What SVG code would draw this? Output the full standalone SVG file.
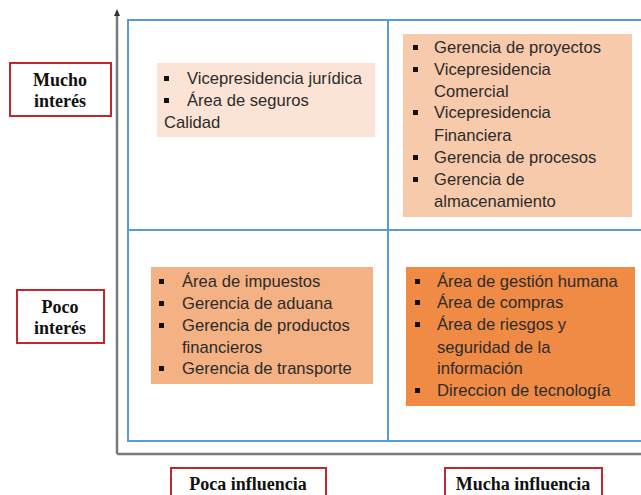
<svg xmlns="http://www.w3.org/2000/svg" width="641" height="495" viewBox="0 0 641 495">
<style>
.lbl{fill:#fff;stroke:#C0282D;stroke-width:2}
.lt{font-family:"Liberation Serif",serif;font-weight:bold;font-size:18px;fill:#111;text-anchor:middle}
.t{font-family:"Liberation Sans",Arial,sans-serif;font-size:16.6px;fill:#2b2b2b}
.grid{fill:none;stroke:#5B9BD5;stroke-width:2}
.axis{stroke:#7a7a7a;stroke-width:2.5;fill:none}
</style>
<defs>
<rect id="b" width="5" height="5" fill="#111"/>
</defs>
<g id="connectors">
<path class="axis" d="M117,454 L117,14"/>
<path d="M114,16 L117,9 L120,16 Z" fill="#333"/>
<path class="axis" d="M117,454 L641,454"/>
</g>
<g id="grid">
<rect class="grid" x="128" y="20" width="520" height="421"/>
<line class="grid" x1="388" y1="20" x2="388" y2="441"/>
<line class="grid" x1="128" y1="230" x2="641" y2="230"/>
</g>
<g id="mucho-interes">
<rect class="lbl" x="10" y="63" width="101" height="53"/>
<text class="lt" x="60" y="86">Mucho</text>
<text class="lt" x="60" y="107">interés</text>
</g>
<g id="poco-interes">
<rect class="lbl" x="17" y="290" width="87" height="53"/>
<text class="lt" x="60" y="313">Poco</text>
<text class="lt" x="60" y="334">interés</text>
</g>
<g id="poca-influencia">
<rect class="lbl" x="171" y="468" width="155" height="40"/>
<text class="lt" x="248" y="490">Poca influencia</text>
</g>
<g id="mucha-influencia">
<rect class="lbl" x="445" y="468" width="157" height="40"/>
<text class="lt" x="523" y="490">Mucha influencia</text>
</g>
<g id="q-top-left">
<rect x="157" y="63" width="218" height="74" fill="#FBE4D5"/>
<use href="#b" x="164" y="76"/><text class="t" x="187" y="84">Vicepresidencia jurídica</text>
<use href="#b" x="164" y="98"/><text class="t" x="187" y="106">Área de seguros</text>
<text class="t" x="164" y="128">Calidad</text>
</g>
<g id="q-top-right">
<rect x="403" y="34" width="229" height="183" fill="#F7CAAC"/>
<use href="#b" x="413" y="45"/><text class="t" x="434" y="53">Gerencia de proyectos</text>
<use href="#b" x="413" y="67"/><text class="t" x="434" y="75">Vicepresidencia</text>
<text class="t" x="434" y="97">Comercial</text>
<use href="#b" x="413" y="110"/><text class="t" x="434" y="118">Vicepresidencia</text>
<text class="t" x="434" y="141">Financiera</text>
<use href="#b" x="413" y="155"/><text class="t" x="434" y="163">Gerencia de procesos</text>
<use href="#b" x="413" y="177"/><text class="t" x="434" y="185">Gerencia de</text>
<text class="t" x="434" y="207">almacenamiento</text>
</g>
<g id="q-bottom-left">
<rect x="151" y="267" width="222" height="117" fill="#F4B183"/>
<use href="#b" x="159" y="279"/><text class="t" x="182" y="287">Área de impuestos</text>
<use href="#b" x="159" y="301"/><text class="t" x="182" y="309">Gerencia de aduana</text>
<use href="#b" x="159" y="323"/><text class="t" x="182" y="331">Gerencia de productos</text>
<text class="t" x="182" y="353">financieros</text>
<use href="#b" x="159" y="366"/><text class="t" x="182" y="374">Gerencia de transporte</text>
</g>
<g id="q-bottom-right">
<rect x="406" y="267" width="229" height="139" fill="#F08B45"/>
<use href="#b" x="415" y="279"/><text class="t" x="437" y="287">Área de gestión humana</text>
<use href="#b" x="415" y="300"/><text class="t" x="437" y="308">Área de compras</text>
<use href="#b" x="415" y="322"/><text class="t" x="437" y="330">Área de riesgos y</text>
<text class="t" x="437" y="353">seguridad de la</text>
<text class="t" x="437" y="374">información</text>
<use href="#b" x="415" y="388"/><text class="t" x="437" y="396">Direccion de tecnología</text>
</g>
</svg>
